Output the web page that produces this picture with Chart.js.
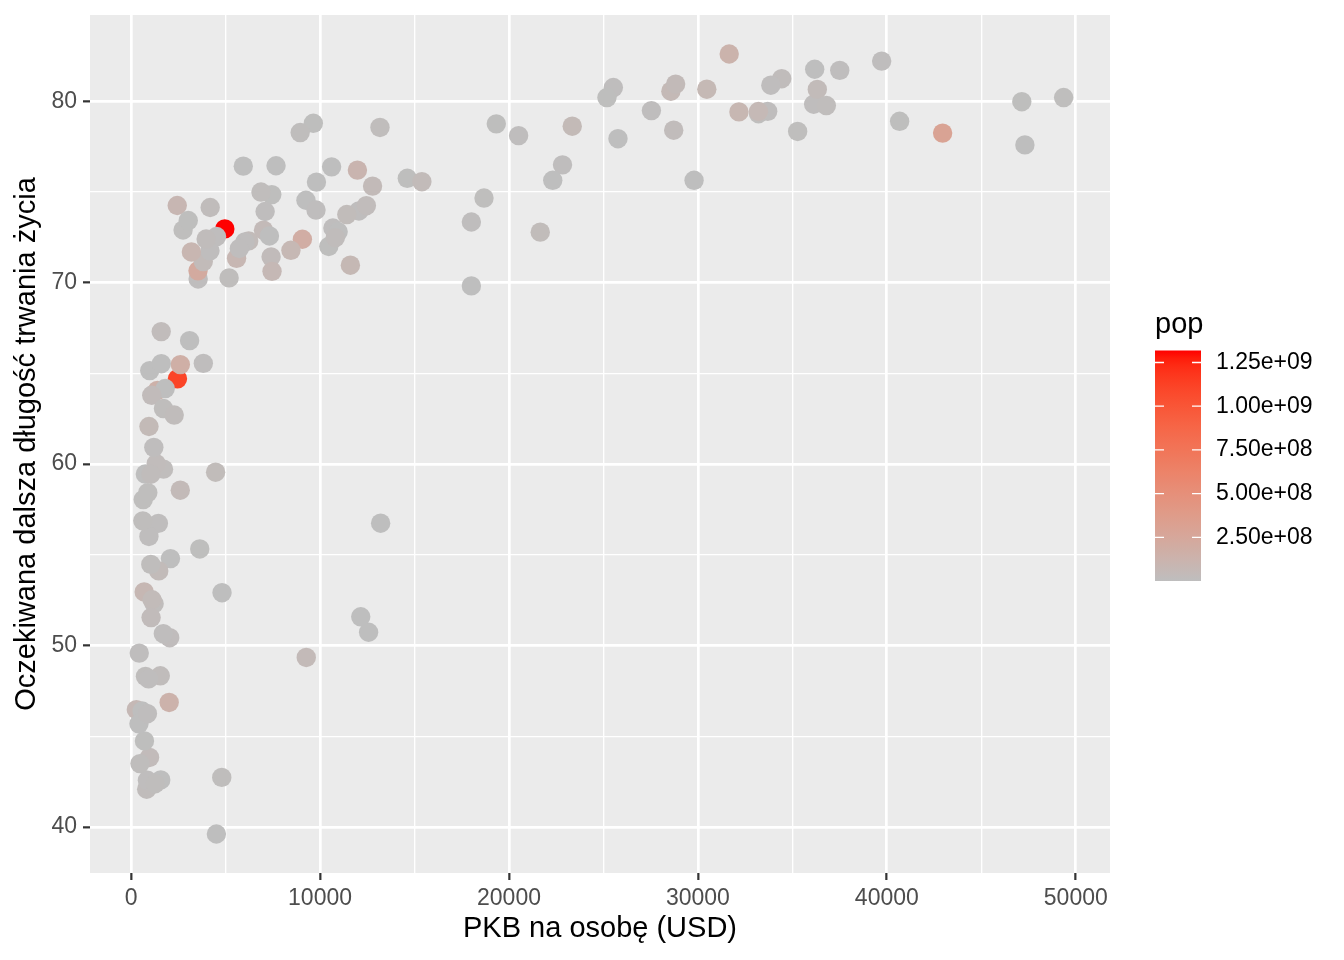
<!DOCTYPE html>
<html>
<head>
<meta charset="utf-8">
<script src="https://cdn.jsdelivr.net/npm/chart.js@4"></script>
<style>
  body { margin: 0; background: #fff; }
  canvas { display: block; }
</style>
</head>
<body>
<canvas id="chart" width="1344" height="960"></canvas>
<script>
// gapminder 2007, one entry per country
const countries = ['Afghanistan', 'Albania', 'Algeria', 'Angola', 'Argentina', 'Australia', 'Austria', 'Bahrain', 'Bangladesh', 'Belgium',
  'Benin', 'Bolivia', 'Bosnia and Herzegovina', 'Botswana', 'Brazil', 'Bulgaria', 'Burkina Faso', 'Burundi', 'Cambodia', 'Cameroon',
  'Canada', 'Central African Republic', 'Chad', 'Chile', 'China', 'Colombia', 'Comoros', 'Congo, Dem. Rep.', 'Congo, Rep.', 'Costa Rica',
  "Cote d'Ivoire", 'Croatia', 'Cuba', 'Czech Republic', 'Denmark', 'Djibouti', 'Dominican Republic', 'Ecuador', 'Egypt', 'El Salvador',
  'Equatorial Guinea', 'Eritrea', 'Ethiopia', 'Finland', 'France', 'Gabon', 'Gambia', 'Germany', 'Ghana', 'Greece',
  'Guatemala', 'Guinea', 'Guinea-Bissau', 'Haiti', 'Honduras', 'Hong Kong, China', 'Hungary', 'Iceland', 'India', 'Indonesia',
  'Iran', 'Iraq', 'Ireland', 'Israel', 'Italy', 'Jamaica', 'Japan', 'Jordan', 'Kenya', 'Korea, Dem. Rep.',
  'Korea, Rep.', 'Kuwait', 'Lebanon', 'Lesotho', 'Liberia', 'Libya', 'Madagascar', 'Malawi', 'Malaysia', 'Mali',
  'Mauritania', 'Mauritius', 'Mexico', 'Mongolia', 'Montenegro', 'Morocco', 'Mozambique', 'Myanmar', 'Namibia', 'Nepal',
  'Netherlands', 'New Zealand', 'Nicaragua', 'Niger', 'Nigeria', 'Norway', 'Oman', 'Pakistan', 'Panama', 'Paraguay',
  'Peru', 'Philippines', 'Poland', 'Portugal', 'Puerto Rico', 'Reunion', 'Romania', 'Rwanda', 'Sao Tome and Principe', 'Saudi Arabia',
  'Senegal', 'Serbia', 'Sierra Leone', 'Singapore', 'Slovak Republic', 'Slovenia', 'Somalia', 'South Africa', 'Spain', 'Sri Lanka',
  'Sudan', 'Swaziland', 'Sweden', 'Switzerland', 'Syria', 'Taiwan', 'Tanzania', 'Thailand', 'Togo', 'Trinidad and Tobago',
  'Tunisia', 'Turkey', 'Uganda', 'United Kingdom', 'United States', 'Uruguay', 'Venezuela', 'Vietnam', 'West Bank and Gaza', 'Yemen, Rep.',
  'Zambia', 'Zimbabwe']

const gdpPercap = [974.6, 5937.0, 6223.4, 4797.2, 12779.4, 34435.4, 36126.5, 29796.0, 1391.3, 33692.6,
  1441.3, 3822.1, 7446.3, 12569.9, 9065.8, 10680.8, 1217.0, 430.1, 1713.8, 2042.1,
  36319.2, 706.0, 1704.1, 13171.6, 4959.1, 7006.6, 986.1, 277.6, 3632.6, 9645.1,
  1544.8, 14619.2, 8948.1, 22833.3, 35278.4, 2082.5, 6025.4, 6873.3, 5581.2, 5728.4,
  12154.1, 641.4, 690.8, 33207.1, 30470.0, 13206.5, 752.7, 32170.4, 1327.6, 27538.4,
  5186.1, 942.7, 579.2, 1201.6, 3548.3, 39725.0, 18008.9, 36180.8, 2452.2, 3540.7,
  11605.7, 4471.1, 40676.0, 25523.3, 28569.7, 7320.9, 31656.1, 4519.5, 1463.2, 1593.1,
  23348.1, 47307.0, 10461.1, 1569.3, 414.5, 12057.5, 1044.8, 759.3, 12451.7, 1042.6,
  1803.2, 10957.0, 11977.6, 3095.8, 9253.9, 3820.2, 823.7, 944.0, 4811.1, 1091.4,
  36797.9, 25185.0, 2749.3, 619.7, 2014.0, 49357.2, 22316.2, 2605.9, 9809.2, 4172.8,
  7408.9, 3190.5, 15389.9, 20509.6, 19328.7, 7670.1, 10808.5, 863.1, 1598.4, 21654.8,
  1712.5, 9786.5, 862.5, 47143.2, 18678.3, 25768.3, 926.1, 9269.7, 28821.1, 3970.1,
  2602.4, 4513.5, 33859.7, 37506.4, 4184.5, 28718.3, 1107.5, 7458.4, 883.0, 18008.5,
  7092.9, 8458.3, 1056.4, 33203.3, 42951.7, 10611.5, 11415.8, 2441.6, 3025.3, 2280.8,
  1271.2, 469.7]

const lifeExp = [43.83, 76.42, 72.30, 42.73, 75.32, 81.24, 79.83, 75.64, 64.06, 79.44,
  56.73, 65.55, 74.85, 50.73, 72.39, 73.01, 52.30, 49.58, 59.72, 50.43,
  80.65, 44.74, 50.65, 78.55, 72.96, 72.89, 65.15, 46.46, 55.32, 78.78,
  48.33, 75.75, 78.27, 76.49, 78.33, 54.79, 72.24, 74.99, 71.34, 71.88,
  51.58, 58.04, 52.95, 79.31, 80.66, 56.74, 59.45, 79.41, 60.02, 79.48,
  70.26, 56.01, 46.39, 60.92, 70.20, 82.21, 73.34, 81.76, 64.70, 70.65,
  70.96, 59.55, 78.89, 80.75, 80.55, 72.57, 82.60, 72.54, 54.11, 67.30,
  78.62, 77.59, 71.99, 42.59, 45.68, 73.95, 59.44, 48.30, 74.24, 54.47,
  64.16, 72.80, 76.20, 66.80, 74.54, 71.16, 42.08, 62.07, 52.91, 63.79,
  79.76, 80.20, 72.90, 56.87, 46.86, 80.20, 75.64, 65.48, 75.54, 71.75,
  71.42, 71.69, 75.56, 78.10, 78.75, 76.44, 72.48, 46.24, 65.53, 72.78,
  63.06, 74.00, 42.57, 79.97, 74.66, 77.93, 48.16, 49.34, 80.94, 72.40,
  58.56, 39.61, 80.88, 81.70, 74.14, 78.40, 52.52, 70.62, 58.42, 69.82,
  73.92, 71.78, 51.54, 79.43, 78.24, 76.38, 73.75, 74.25, 73.42, 62.70,
  42.38, 43.49]

// population in millions
const popMillions = [31.89, 3.60, 33.33, 12.42, 40.30, 20.43, 8.20, 0.71, 150.45, 10.39,
  8.08, 9.12, 4.55, 1.64, 190.01, 7.32, 14.33, 8.39, 14.13, 17.70,
  33.39, 4.37, 10.24, 16.28, 1318.68, 44.23, 0.71, 64.61, 3.80, 4.13,
  18.01, 4.49, 11.42, 10.23, 5.47, 0.50, 9.32, 13.76, 80.26, 6.94,
  0.55, 4.91, 76.51, 5.24, 61.08, 1.45, 1.69, 82.40, 22.87, 10.71,
  12.57, 9.95, 1.47, 8.50, 7.48, 6.98, 9.96, 0.30, 1110.40, 223.55,
  69.45, 27.50, 4.11, 6.43, 58.15, 2.78, 127.47, 6.05, 35.61, 23.30,
  49.04, 2.51, 3.92, 2.01, 3.19, 6.04, 19.17, 13.33, 24.82, 12.03,
  3.27, 1.25, 108.70, 2.87, 0.68, 33.76, 19.95, 47.76, 2.06, 28.90,
  16.57, 4.12, 5.68, 12.89, 135.03, 4.63, 3.20, 169.27, 3.24, 6.67,
  28.67, 91.08, 38.52, 10.64, 3.94, 0.80, 22.28, 8.86, 0.20, 27.60,
  12.27, 10.15, 6.14, 4.55, 5.45, 2.01, 9.12, 44.00, 40.45, 20.38,
  42.29, 1.13, 9.03, 7.55, 19.31, 23.17, 38.14, 65.07, 5.70, 1.06,
  10.28, 71.16, 29.17, 60.78, 301.14, 3.45, 26.08, 85.26, 4.02, 22.21,
  11.75, 12.31]

const xTicks = [0, 10000, 20000, 30000, 40000, 50000]
const yTicks = [40, 50, 60, 70, 80]
const popTicks = [2.5e8, 5e8, 7.5e8, 1e9, 1.25e9]

const FONT = "'Liberation Sans', Arial, Helvetica, sans-serif"
const LOW = [190, 190, 190]
const HIGH = [255, 0, 0]

// colour interpolation in Lab, like ggplot's gradient
function toLin (c) { c /= 255; return c <= 0.04045 ? c / 12.92 : Math.pow((c + 0.055) / 1.055, 2.4) }
function fromLin (c) { const v = c <= 0.0031308 ? 12.92 * c : 1.055 * Math.pow(c, 1 / 2.4) - 0.055; return Math.round(Math.min(1, Math.max(0, v)) * 255) }
function toLab (rgb) {
  const [R, G, B] = rgb.map(toLin)
  const X = (0.4124 * R + 0.3576 * G + 0.1805 * B) / 0.95047
  const Y = 0.2126 * R + 0.7152 * G + 0.0722 * B
  const Z = (0.0193 * R + 0.1192 * G + 0.9505 * B) / 1.08883
  const f = t => t > 0.008856 ? Math.cbrt(t) : 7.787 * t + 16 / 116
  return [116 * f(Y) - 16, 500 * (f(X) - f(Y)), 200 * (f(Y) - f(Z))]
}
function fromLab ([L, a, b]) {
  const fy = (L + 16) / 116
  const fx = fy + a / 500
  const fz = fy - b / 200
  const inv = t => t ** 3 > 0.008856 ? t ** 3 : (t - 16 / 116) / 7.787
  const X = inv(fx) * 0.95047
  const Y = inv(fy)
  const Z = inv(fz) * 1.08883
  const R = 3.2406 * X - 1.5372 * Y - 0.4986 * Z
  const G = -0.9689 * X + 1.8758 * Y + 0.0415 * Z
  const B = 0.0557 * X - 0.2040 * Y + 1.0570 * Z
  return `rgb(${fromLin(R)}, ${fromLin(G)}, ${fromLin(B)})`
}
const labLow = toLab(LOW)
const labHigh = toLab(HIGH)
function gradColor (t) {
  return fromLab(labLow.map((v, i) => v + (labHigh[i] - v) * t))
}

const pops = popMillions.map(p => p * 1e6)
const popMin = Math.min(...pops)
const popMax = Math.max(...pops)
const pointColors = pops.map(p => gradColor((p - popMin) / (popMax - popMin)))

const points = gdpPercap.map((g, i) => ({ x: g, y: lifeExp[i] }))

// axis limits with 5% padding, as ggplot does
const xMin = Math.min(...gdpPercap); const xMax = Math.max(...gdpPercap)
const yMin = Math.min(...lifeExp); const yMax = Math.max(...lifeExp)
const xPad = (xMax - xMin) * 0.05
const yPad = (yMax - yMin) * 0.05

const isMajor = (list, v) => list.includes(v)
const withMinor = list => {
  const out = []
  list.forEach((v, i) => {
    if (i > 0) out.push((list[i - 1] + v) / 2)
    out.push(v)
  })
  return out
}

const panelBg = {
  id: 'panelBg',
  beforeDraw (chart) {
    const { ctx, chartArea: a } = chart
    ctx.save()
    ctx.fillStyle = '#EBEBEB'
    ctx.fillRect(a.left, a.top, a.right - a.left, a.bottom - a.top)
    ctx.restore()
  }
}

const extras = {
  id: 'extras',
  afterDraw (chart) {
    const { ctx, chartArea: a } = chart
    ctx.save()
    ctx.fillStyle = '#000'
    ctx.font = `29px ${FONT}`
    ctx.textAlign = 'center'
    ctx.textBaseline = 'middle'
    ctx.fillText('PKB na osobę (USD)', (a.left + a.right) / 2, 929)
    ctx.save()
    ctx.translate(27, (a.top + a.bottom) / 2)
    ctx.rotate(-Math.PI / 2)
    ctx.fillText('Oczekiwana dalsza długość trwania życia', 0, 0)
    ctx.restore()

    // colour bar legend
    const bx = 1155; const bw = 46; const top = 350.5; const bottom = 581
    const yOf = p => bottom - (p - popMin) / (popMax - popMin) * (bottom - top)
    ctx.textAlign = 'left'
    ctx.textBaseline = 'alphabetic'
    ctx.fillText('pop', bx, 333)
    const grad = ctx.createLinearGradient(0, bottom, 0, top)
    for (let i = 0; i <= 30; i++) grad.addColorStop(i / 30, gradColor(i / 30))
    ctx.fillStyle = grad
    ctx.fillRect(bx, top, bw, bottom - top)
    ctx.strokeStyle = '#FFFFFF'
    ctx.lineWidth = 1.3
    ctx.font = `23px ${FONT}`
    ctx.fillStyle = '#000'
    ctx.textBaseline = 'middle'
    popTicks.forEach(p => {
      const y = yOf(p)
      ctx.beginPath()
      ctx.moveTo(bx, y); ctx.lineTo(bx + 9, y)
      ctx.moveTo(bx + bw - 9, y); ctx.lineTo(bx + bw, y)
      ctx.stroke()
      const label = p.toExponential(2).replace(/e\+(\d)$/, 'e+0$1')
      ctx.fillText(label, 1216, y)
    })
    ctx.restore()
  }
}

const gridOpts = list => ({
  color: '#FFFFFF',
  lineWidth: c => (c.tick && isMajor(list, c.tick.value)) ? 2.7 : 1.35,
  tickColor: c => (c.tick && isMajor(list, c.tick.value)) ? '#333333' : 'rgba(0,0,0,0)',
  tickLength: 7,
  tickWidth: 2.2
})

new Chart(document.getElementById('chart'), {
  type: 'scatter',
  data: {
    labels: countries,
    datasets: [{
      label: 'pop',
      data: points,
      pointBackgroundColor: pointColors,
      pointBorderWidth: 0,
      pointRadius: 9.7
    }]
  },
  options: {
    responsive: false,
    animation: false,
    devicePixelRatio: 1,
    events: [],
    layout: { padding: { left: 0, top: 15, right: 234, bottom: 0 } },
    plugins: { legend: { display: false }, tooltip: { enabled: false } },
    scales: {
      x: {
        type: 'linear',
        min: xMin - xPad,
        max: xMax + xPad,
        border: { display: false },
        grid: gridOpts(xTicks),
        afterBuildTicks: s => { s.ticks = withMinor(xTicks).map(v => ({ value: v })) },
        afterFit: s => { s.height = 87; s.paddingLeft = 0; s.paddingRight = 0 },
        ticks: {
          color: '#4D4D4D',
          font: { family: FONT, size: 23 },
          padding: 5,
          maxRotation: 0,
          autoSkip: false,
          callback: v => isMajor(xTicks, v) ? String(v) : ''
        }
      },
      y: {
        type: 'linear',
        min: yMin - yPad,
        max: yMax + yPad,
        border: { display: false },
        grid: gridOpts(yTicks),
        afterBuildTicks: s => { s.ticks = withMinor(yTicks).map(v => ({ value: v })) },
        afterFit: s => { s.width = 90; s.paddingTop = 0; s.paddingBottom = 0 },
        ticks: {
          color: '#4D4D4D',
          font: { family: FONT, size: 23 },
          padding: 6,
          autoSkip: false,
          callback: v => isMajor(yTicks, v) ? String(v) : ''
        }
      }
    }
  },
  plugins: [panelBg, extras]
})
</script>
</body>
</html>
